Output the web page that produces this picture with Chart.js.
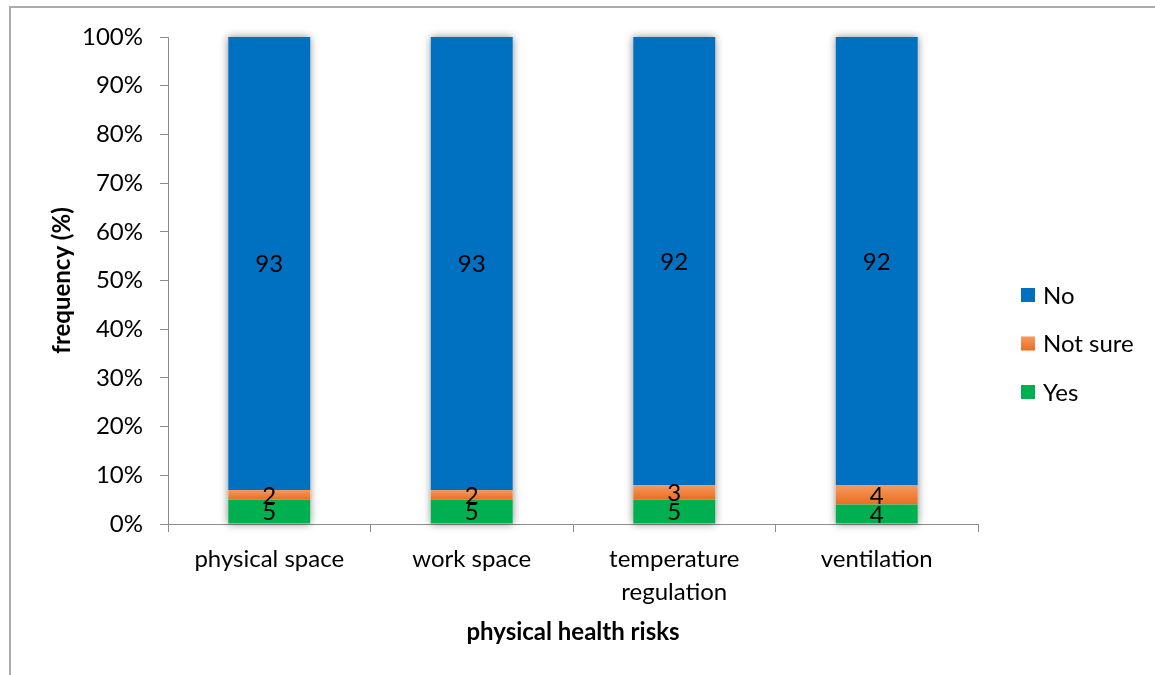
<!DOCTYPE html>
<html>
<head>
<meta charset="utf-8">
<script src="https://cdn.jsdelivr.net/npm/chart.js@4.4.1/dist/chart.umd.min.js"></script>
<style>
  html, body { margin: 0; padding: 0; background: #fff; }
  #wrap { width: 1155px; height: 675px; }
</style>
</head>
<body>
<div id="wrap"><canvas id="riskChart" width="1155" height="675"></canvas></div>
<script>
// values (percent of respondents)
const categories = [["physical space"], ["work space"], ["temperature", "regulation"], ["ventilation"]];
const yesValues = [5, 5, 5, 4];
const notSureValues = [2, 2, 3, 4];
const noValues = [93, 93, 92, 92];
const seriesNames = ["Yes", "Not sure", "No"];

const FONT = "Lato, 'Open Sans', sans-serif";
const FONT_SIZE = 24;
const AXIS_GREY = "#8c8c8c";

// orange series has a light-to-dark vertical gradient like the original
function orangeFill(context) {
    const chart = context.chart;
    const y = chart.scales && chart.scales.y;
    if (!chart.chartArea || !y || context.type !== "data") return "#F07D33";
    const i = context.dataIndex;
    const top = y.getPixelForValue(yesValues[i] + notSureValues[i]);
    const bottom = y.getPixelForValue(yesValues[i]);
    const g = chart.ctx.createLinearGradient(0, top, 0, bottom);
    g.addColorStop(0, "#F59A62");
    g.addColorStop(1, "#EA6E1E");
    return g;
}

const frame = {
    id: "frame",
    beforeDraw(chart) {
        const ctx = chart.ctx;
        ctx.save();
        ctx.strokeStyle = "#ababab";
        ctx.lineWidth = 2;
        ctx.beginPath();
        ctx.moveTo(10, chart.height);
        ctx.lineTo(10, 7);
        ctx.lineTo(chart.width, 7);
        ctx.stroke();
        ctx.restore();
    }
};

const barShadow = {
    id: "barShadow",
    beforeDatasetsDraw(chart) {
        const ctx = chart.ctx;
        const first = chart.getDatasetMeta(0).data;
        const last = chart.getDatasetMeta(chart.data.datasets.length - 1).data;
        ctx.save();
        ctx.shadowColor = "rgba(0,0,0,0.45)";
        ctx.shadowBlur = 8;
        ctx.fillStyle = "#fff";
        first.forEach((bar, i) => {
            const top = last[i].y;
            ctx.fillRect(bar.x - bar.width / 2, top, bar.width, bar.base - top);
        });
        ctx.restore();
    }
};

const segmentLabels = {
    id: "segmentLabels",
    afterDatasetsDraw(chart) {
        const ctx = chart.ctx;
        ctx.save();
        ctx.font = FONT_SIZE + "px " + FONT;
        ctx.fillStyle = "#000";
        ctx.textAlign = "center";
        ctx.textBaseline = "middle";
        chart.data.datasets.forEach((ds, d) => {
            chart.getDatasetMeta(d).data.forEach((bar, i) => {
                ctx.fillText(String(ds.data[i]), bar.x, (bar.y + bar.base) / 2 + 1);
            });
        });
        ctx.restore();
    }
};

const sideLegend = {
    id: "sideLegend",
    afterDraw(chart) {
        const ctx = chart.ctx;
        const sets = chart.data.datasets.slice().reverse();
        ctx.save();
        ctx.font = FONT_SIZE + "px " + FONT;
        ctx.textBaseline = "middle";
        ctx.textAlign = "left";
        sets.forEach((ds, k) => {
            const cy = 295 + k * 48.5;
            if (ds.label === "Not sure") {
                const g = ctx.createLinearGradient(0, cy - 7, 0, cy + 7);
                g.addColorStop(0, "#F59A62");
                g.addColorStop(1, "#EA6E1E");
                ctx.fillStyle = g;
            } else {
                ctx.fillStyle = ds.backgroundColor;
            }
            ctx.fillRect(1021, cy - 7, 14, 14);
            ctx.fillStyle = "#000";
            ctx.fillText(ds.label, 1043, cy + 1);
        });
        ctx.restore();
    }
};

new Chart(document.getElementById("riskChart"), {
    type: "bar",
    data: {
        labels: categories,
        datasets: [
            { label: seriesNames[0], data: yesValues, backgroundColor: "#00B050" },
            { label: seriesNames[1], data: notSureValues, backgroundColor: orangeFill },
            { label: seriesNames[2], data: noValues, backgroundColor: "#0070C0" },
        ],
    },
    options: {
        responsive: false,
        animation: false,
        layout: { padding: { top: 37, right: 177, left: 0, bottom: 0 } },
        datasets: {
            bar: { barPercentage: 0.405, categoryPercentage: 1.0, borderWidth: 0 },
        },
        plugins: {
            legend: { display: false },
            tooltip: { enabled: false },
        },
        scales: {
            x: {
                stacked: true,
                afterFit(scale) { scale.height = 151; },
                grid: {
                    offset: true,
                    drawOnChartArea: false,
                    drawTicks: true,
                    tickLength: 8,
                    color: AXIS_GREY,
                },
                border: { display: true, color: AXIS_GREY, width: 1 },
                ticks: {
                    color: "#000",
                    padding: 11,
                    maxRotation: 0,
                    font: { family: FONT, size: FONT_SIZE, lineHeight: 1.36 },
                },
                title: {
                    display: true,
                    text: "physical health risks",
                    color: "#000",
                    font: { family: FONT, size: FONT_SIZE, weight: "bold", lineHeight: 1.2 },
                    padding: { top: 0, bottom: 28 },
                },
            },
            y: {
                stacked: true,
                min: 0,
                max: 100,
                afterFit(scale) { scale.width = 168; },
                grid: {
                    drawOnChartArea: false,
                    drawTicks: true,
                    tickLength: 8,
                    color: AXIS_GREY,
                },
                border: { display: true, color: AXIS_GREY, width: 1 },
                ticks: {
                    stepSize: 10,
                    color: "#000",
                    padding: 17,
                    font: { family: FONT, size: FONT_SIZE },
                    callback: (v) => v + "%",
                },
                title: {
                    display: true,
                    text: "frequency (%)",
                    color: "#000",
                    font: { family: FONT, size: FONT_SIZE, weight: "bold", lineHeight: 1.2 },
                    padding: { top: 48, bottom: 0 },
                },
            },
        },
    },
    plugins: [frame, barShadow, segmentLabels, sideLegend],
});
</script>
</body>
</html>
